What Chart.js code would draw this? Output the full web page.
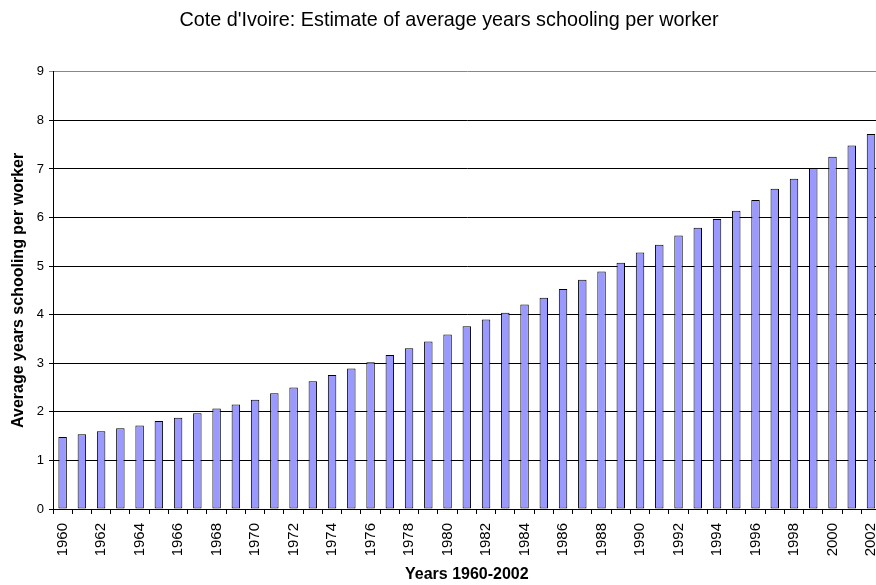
<!DOCTYPE html>
<html>
<head>
<meta charset="utf-8">
<script src="https://cdn.jsdelivr.net/npm/chart.js@4.4.0/dist/chart.umd.min.js"></script>
<style>
	html, body { margin: 0; padding: 0; overflow: hidden; background: #fff; }
	#wrap { width: 898px; height: 585px; }
</style>
</head>
<body>
<div id="wrap"><canvas id="chart_bar"></canvas></div>
<script>
// years 1960-2002
var years = [];
for (var y = 1960; y <= 2002; y++) { years.push(String(y)); }

// average years of schooling
var schooling = [
	1.48, 1.54, 1.60, 1.66, 1.72, 1.81, 1.88, 1.97, 2.07, 2.15,
	2.25, 2.38, 2.50, 2.63, 2.76, 2.89, 3.02, 3.17, 3.31, 3.45,
	3.59, 3.76, 3.90, 4.04, 4.21, 4.35, 4.53, 4.72, 4.89, 5.07,
	5.28, 5.44, 5.63, 5.79, 5.97, 6.14, 6.36, 6.59, 6.80, 7.02,
	7.25, 7.48, 7.72
];

var y_ticks = [0, 1, 2, 3, 4, 5, 6, 7, 8, 9];

var fuente = "'Liberation Sans', Arial, sans-serif";

var datos = {
	type: "bar",
	data: {
		labels: years,
		datasets: [{
			data: schooling,
			backgroundColor: "#9999ff",
			borderColor: "#000000",
			borderWidth: 1,
			borderSkipped: false,
			barPercentage: 0.44,
			categoryPercentage: 1.0
		}]
	},
	options: {
		responsive: true,
		maintainAspectRatio: false,
		animation: false,
		layout: { padding: 0 },
		plugins: {
			legend: { display: false },
			tooltip: { enabled: false },
			title: {
				display: true,
				text: "Cote d'Ivoire: Estimate of average years schooling per worker",
				color: "#000",
				font: { family: fuente, size: 19.8, weight: "normal", lineHeight: 1.2 },
				padding: { top: 9, bottom: 39 }
			}
		},
		scales: {
			x: {
				offset: true,
				grid: {
					offset: true,
					drawOnChartArea: false,
					drawTicks: true,
					tickLength: 5,
					color: "#000"
				},
				border: { color: "#000", width: 1 },
				ticks: {
					autoSkip: false,
					maxRotation: 90,
					minRotation: 90,
					padding: 9,
					color: "#000",
					font: { family: fuente, size: 15 },
					callback: function(val, i) {
						return (i % 2 === 0) ? years[i] : "";
					}
				},
				title: {
					display: true,
					text: "Years 1960-2002",
					color: "#000",
					font: { family: fuente, size: 16, weight: "bold" },
					padding: { top: 0, bottom: 1 }
				},
				afterFit: function(scale) { scale.height = 76; }
			},
			y: {
				min: 0,
				max: 9,
				afterBuildTicks: function(scale) {
					scale.ticks = y_ticks.map(function(v) { return { value: v }; });
				},
				grid: {
					color: function(ctx) {
						return (ctx.tick && ctx.tick.value === 9) ? "#888" : "#000";
					},
					tickLength: 4,
					lineWidth: 1
				},
				border: { color: "#000", width: 1 },
				ticks: {
					padding: 5,
					color: "#000",
					font: { family: fuente, size: 13 }
				},
				title: {
					display: true,
					text: "Average years schooling per worker",
					color: "#000",
					font: { family: fuente, size: 16, weight: "bold" },
					padding: { top: 9, bottom: 0 }
				},
				afterFit: function(scale) { scale.width = 53; }
			}
		}
	}
};

var canvas = document.getElementById('chart_bar').getContext('2d');
window.barras = new Chart(canvas, datos);
</script>
</body>
</html>
